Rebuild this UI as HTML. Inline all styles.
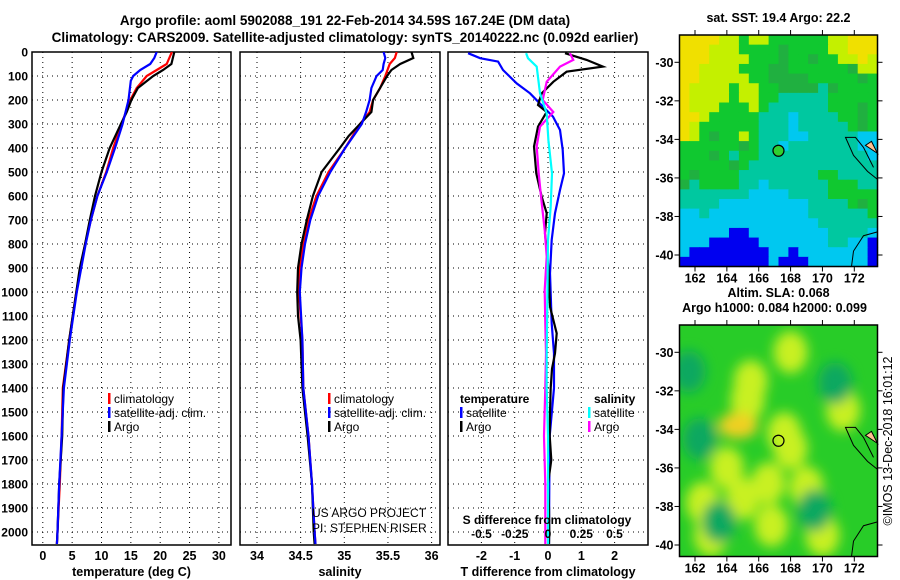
<!DOCTYPE html>
<html><head><meta charset="utf-8"><title>Argo profile</title>
<style>
html,body{margin:0;padding:0;background:#fff;}
svg{display:block;font-family:"Liberation Sans",Arial,sans-serif;}
.b{font-weight:bold;}
</style></head>
<body>
<svg id="chart" width="900" height="580" viewBox="0 0 900 580" xmlns="http://www.w3.org/2000/svg">
<defs>
<filter id="blur" x="-50%" y="-50%" width="200%" height="200%"><feGaussianBlur stdDeviation="6"/></filter>
<clipPath id="clipMap2"><rect x="680" y="325" width="198" height="232"/></clipPath>
<clipPath id="clipP1"><rect x="32" y="52" width="199" height="493"/></clipPath>
<clipPath id="clipP2"><rect x="240" y="52" width="200" height="493"/></clipPath>
<clipPath id="clipP3"><rect x="448" y="52" width="200" height="493"/></clipPath>
</defs>
<text class="b" x="345" y="25" font-size="13.5" text-anchor="middle">Argo profile: aoml 5902088_191 22-Feb-2014 34.59S 167.24E (DM data)</text>
<text class="b" x="345" y="42" font-size="13.5" text-anchor="middle">Climatology: CARS2009. Satellite-adjusted climatology: synTS_20140222.nc (0.092d earlier)</text>
<g id="g"></g>
</svg>
<script>
// ---------- data ----------
const depthTicks = [0,100,200,300,400,500,600,700,800,900,1000,1100,1200,1300,1400,1500,1600,1700,1800,1900,2000];
const tempTicks = [0,5,10,15,20,25,30];
const salTicks = [34,34.5,35,35.5,36];
const salTickLabels = ["34","34.5","35","35.5","36"];
const dTTicks = [-2,-1,0,1,2];
const dSTicks = [-0.5,-0.25,0,0.25,0.5];
const dSTickLabels = ["-0.5","-0.25","0","0.25","0.5"];

const tArgoDepth = [0,50,75,100,150,200,250,300,400,500,600,700,800,900,1000,1100,1200,1400,1600,1800,2000,2050];
const tArgo      = [22.4,21.9,20.5,18.8,16.2,15.1,14.3,13.3,11.4,10.0,8.9,8.0,7.2,6.3,5.7,5.1,4.5,3.5,3.3,2.8,2.5,2.4];
const tClimDepth = [0,50,75,100,150,200,300,400,500,600,700,800,1000,1200,1400,1600,1800,2000,2050];
const tClim      = [22.0,21.1,19.4,17.7,16.0,14.9,13.4,12.0,10.8,9.3,8.2,7.2,5.7,4.5,3.4,3.2,2.9,2.5,2.4];
const tSatDepth  = [0,25,50,75,100,120,200,300,400,500,600,700,800,1000,1200,1400,1600,1800,2000,2050];
const tSat       = [19.4,19.0,18.3,16.6,15.4,15.0,14.6,13.6,12.3,10.9,9.3,8.2,7.3,5.8,4.6,3.6,3.2,2.8,2.5,2.4];

const sArgoDepth = [0,25,50,75,100,150,200,250,300,350,400,500,600,700,800,900,1000,1100,1200,1400,1600,1800,2000,2050];
const sArgo      = [35.77,35.79,35.64,35.54,35.49,35.41,35.33,35.31,35.18,35.05,34.95,34.74,34.64,34.57,34.51,34.47,34.46,34.47,34.50,34.52,34.58,34.63,34.65,34.66];
const sClimDepth = [0,25,50,100,150,200,250,300,400,500,600,700,800,900,1000,1200,1400,1600,1800,2000,2050];
const sClim      = [35.60,35.58,35.52,35.47,35.41,35.33,35.29,35.18,35.01,34.82,34.68,34.59,34.53,34.49,34.48,34.52,34.53,34.59,34.63,34.66,34.67];
const sSatDepth  = [0,25,50,75,100,150,200,250,300,400,500,600,700,800,900,1000,1200,1400,1600,1800,2000,2050];
const sSat       = [35.45,35.47,35.45,35.44,35.37,35.31,35.29,35.25,35.20,35.01,34.84,34.70,34.61,34.55,34.51,34.49,34.52,34.53,34.59,34.63,34.66,34.67];

const dTArgoDepth = [5,33,61,82,124,172,221,250,311,394,506,603,672,756,894,1061,1172,1256,1320,1400,1500,1600,1700,1800,1900,2000,2050];
const dTArgo      = [0.51,1.16,1.65,0.56,0.16,-0.19,-0.30,-0.04,-0.30,-0.42,-0.35,-0.19,-0.04,-0.09,0.01,0.06,0.26,0.21,0.12,0.08,0.06,0.05,0.10,0.0,0.03,0.04,0.03];
const dTSatDepth  = [5,26,40,75,131,172,228,269,325,408,506,575,672,783,922,1131,1256,1400,1600,1800,2000,2050];
const dTSat       = [-2.4,-2.04,-1.5,-1.35,-0.94,-0.54,-0.15,0.15,0.36,0.44,0.48,0.36,0.21,0.11,0.06,0.11,0.18,0.18,0.05,0.04,0.03,0.03];
const dSArgoDepth = [5,33,61,124,200,250,311,394,506,617,742,853,992,1131,1256,1400,1600,1800,2000,2050];
const dSArgo      = [0.165,0.19,0.09,-0.01,-0.04,0.04,-0.06,-0.085,-0.07,-0.05,-0.025,-0.01,-0.025,-0.02,-0.015,-0.02,-0.03,-0.02,-0.02,-0.02];
const dSSatDepth  = [5,26,61,172,256,367,506,644,783,1061,1256,1400,1600,1800,2000,2050];
const dSSat       = [-0.165,-0.15,-0.085,-0.06,-0.01,0.003,0.03,0.02,0.0,-0.005,-0.01,-0.01,0.0,0.0,0.0,0.0];

const lonTicks = [162,164,166,168,170,172];
const latTicks = [-30,-32,-34,-36,-38,-40];
const argoLon = 167.24;
const argoLat = -34.59;
const sstGrid = [
"YYYYLLGLLGGGGGGLLYYY",
"YYYLLLGGGGgGGGGLLYYY",
"YYYLLLLGGGgGGgGGLLYL",
"YYLLLLGGGggGGGGGGgLL",
"YYLLLLLGGggggGGGGGgG",
"YLLLLGLLGGggggTgGGGG",
"YLLLLGLLGGTTTTTGGGGG",
"YLLLGGGLGTTTTTTGGGgG",
"YYLGGGGGTTTCTTTTGGgG",
"YLGGGGGGTTTCTTTTTGgG",
"YLGgGGLGTTTCCTTTTTCC",
"GGGGGGgGTTCTTTTTTTCC",
"GGGgGTGGTTTTTTTTTTTC",
"GGGGGgGTTTTTTTTTTTTT",
"GgGGGGTTTTTTTTGGTTTT",
"gTGGGGTTCTTTTTTGGGTT",
"TTTTTTTCCCCTTTTGGGGG",
"TTTTCCCCCCCCCTTTTGgG",
"CCTCCCCCCCCCCTTTTTTG",
"CCCCCCCCCCCCCCTTTTTT",
"CCCCCBBCCCCCCCCTTTTC",
"CCCBBBBBCCCCCCCTTCCB",
"CBBBBBBBBCCBCCCCCCCB",
"BBBBBBBBBCBBBCCCCCCB"];
const slaBlobLon = [165.5,165.3,164.7,167.6,168.0,166.6,165.0,171.3,168.0,163.0,166.8,162.5,164.0,169.0,170.0,170.8,161.6,162.3,169.5,163.5];
const slaBlobLat = [-31.5,-32.5,-33.8,-34.2,-35.0,-36.8,-37.6,-33.0,-30.0,-39.5,-39.0,-37.8,-36.0,-37.0,-39.5,-31.6,-31.0,-34.5,-38.2,-38.8];
const slaBlobVal = ["L","L","O","L","L","L","L","L","L","L","L","L","L","L","L","D","D","D","D","D"];

// ---------- helpers ----------
const NS = "http://www.w3.org/2000/svg";
const root = document.getElementById('g');
function mk(tag, attrs, parent){
  const e = document.createElementNS(NS, tag);
  for (const k in attrs) e.setAttribute(k, attrs[k]);
  (parent||root).appendChild(e);
  return e;
}
function txt(x,y,s,size,anchor,bold,parent){
  const t = mk('text',{x:x,y:y,'font-size':size,'text-anchor':anchor||'middle'},parent);
  if(bold) t.setAttribute('class','b');
  t.textContent = s;
  return t;
}
const yD = d => 52 + d*0.24;
const xT = t => 42.8 + t*5.87;
const xS = s => 257 + (s-34)*87.3;
const xdT = v => 548 + v*33.3;
const xdS = v => 548 + v*133;

function panel(x0,x1,name,xt,ticks,labels,title){
  const g = mk('g',{});
  
  
  depthTicks.forEach(d=>{ if(d>0){
    const l = mk('line',{x1:x0,x2:x1,y1:yD(d),y2:yD(d),stroke:'#000','stroke-width':1,'stroke-dasharray':'1,4'},g);
    
    
  }});
  ticks.forEach((v,i)=>{
    const x = xt(v);
    const l = mk('line',{x1:x,x2:x,y1:52,y2:545,stroke:'#000','stroke-width':1,'stroke-dasharray':'1,4'},g);
    
    
    if(labels){
      const t = txt(x,560,labels[i],12.5,'middle',true,g);
      
      
    }
  });
  const r = mk('rect',{x:x0,y:52,width:x1-x0,height:493,fill:'none',stroke:'#000','stroke-width':1.5},g);
  
  
  if(title){
    const t = txt((x0+x1)/2,576,title,12.5,'middle',true,g);
    
    
  }
  return g;
}
function line(xs,ds,xf,color,name,clip,w){
  const pts = xs.map((v,i)=>xf(v).toFixed(1)+','+yD(ds[i]).toFixed(1)).join(' ');
  const p = mk('polyline',{points:pts,fill:'none',stroke:color,'stroke-width':w||2.2,'clip-path':'url(#'+clip+')'});
  
  
}
function legendEntry(x,y,color,label,name){
  const g = mk('g',{});
  
  
  mk('rect',{x:x,y:y-10,width:2.5,height:11,fill:color},g);
  txt(x+6,y,label,12,'start',false,g);
}

// ---------- depth axis labels ----------
depthTicks.forEach(d=>{
  const t = txt(28,yD(d)+4.5,String(d),12,'end',true);
  
  
});

// ---------- panel 1 temperature ----------
panel(32,231,'temperature-panel',xT,tempTicks,tempTicks.map(String),'temperature (deg C)');
line(tClim,tClimDepth,xT,'#f00','temp-climatology-line','clipP1');
line(tArgo,tArgoDepth,xT,'#000','temp-argo-line','clipP1');
line(tSat,tSatDepth,xT,'#00f','temp-satellite-line','clipP1');
legendEntry(108,403,'#f00','climatology','legend-climatology');
legendEntry(108,417,'#00f','satellite-adj. clim.','legend-satellite');
legendEntry(108,431,'#000','Argo','legend-argo');

// ---------- panel 2 salinity ----------
panel(240,440,'salinity-panel',xS,salTicks,salTickLabels,'salinity');
line(sClim,sClimDepth,xS,'#f00','sal-climatology-line','clipP2');
line(sArgo,sArgoDepth,xS,'#000','sal-argo-line','clipP2');
line(sSat,sSatDepth,xS,'#00f','sal-satellite-line','clipP2');
legendEntry(328,403,'#f00','climatology','legend-sal-climatology');
legendEntry(328,417,'#00f','satellite-adj. clim.','legend-sal-satellite');
legendEntry(328,431,'#000','Argo','legend-sal-argo');
{
  const a = txt(312,517,'US ARGO PROJECT',12,'start',false);
  
  
  const b = txt(312,532,'PI: STEPHEN RISER',12,'start',false);
  
  
}

// ---------- panel 3 differences ----------
panel(448,648,'difference-panel',xdT,dTTicks,dTTicks.map(String),'T difference from climatology');
line(dTSat,dTSatDepth,xdT,'#00f','dT-satellite-line','clipP3');
line(dTArgo,dTArgoDepth,xdT,'#000','dT-argo-line','clipP3');
line(dSArgo,dSArgoDepth,xdS,'#f0f','dS-argo-line','clipP3');
line(dSSat,dSSatDepth,xdS,'#0ff','dS-satellite-line','clipP3');
{
  const t1 = txt(460,403,'temperature',12,'start',true);  
  const t2 = txt(594,403,'salinity',12,'start',true);  
}
legendEntry(460,417,'#00f','satellite','legend-dT-satellite');
legendEntry(460,431,'#000','Argo','legend-dT-argo');
legendEntry(588,417,'#0ff','satellite','legend-dS-satellite');
legendEntry(588,431,'#f0f','Argo','legend-dS-argo');
{
  const t = txt(547,524,'S difference from climatology',12,'middle',true);
  
  
  dSTicks.forEach((v,i)=>{
    const l = txt(xdS(v),538,dSTickLabels[i],12,'middle',true);
    
    
  });
}

// ---------- maps ----------
const mapX0=679.5, mapX1=877.5;
const xLon = lon => 695 + (lon-162)*15.93;
const yLat1 = lat => 62.3 + (-30-lat)*19.27;
const yLat2 = lat => 352.3 + (-30-lat)*19.27;
const sstColors = {Y:'#f0e000',L:'#c4f000',G:'#10c830',g:'#20b040',T:'#00c8a0',C:'#00c8f0',B:'#0000f0'};

function mapAxes(y0,y1,yLat,name,title1,title2){
  const g = mk('g',{});
  
  
  mk('rect',{x:mapX0,y:y0,width:mapX1-mapX0,height:y1-y0,fill:'none',stroke:'#000','stroke-width':1.5},g);
  lonTicks.forEach(l=>{
    mk('line',{x1:xLon(l),x2:xLon(l),y1:y1,y2:y1+5,stroke:'#000'},g);
    mk('line',{x1:xLon(l),x2:xLon(l),y1:y0-5,y2:y0,stroke:'#000'},g);
    const t = txt(xLon(l),y1+16,String(l),12.5,'middle',true,g);
    
    
  });
  latTicks.forEach(l=>{
    mk('line',{x1:mapX0-5,x2:mapX0,y1:yLat(l),y2:yLat(l),stroke:'#000'},g);
    mk('line',{x1:mapX1,x2:mapX1+5,y1:yLat(l),y2:yLat(l),stroke:'#000'},g);
    const t = txt(mapX0-6,yLat(l)+4.5,String(l),12.5,'end',true,g);
    
    
  });
  const cy = yLat(-34);
  mk('path',{d:`M${mapX1} ${cy+14} L${mapX1-6} ${cy+10} L${mapX1-12} ${cy+6} L${mapX1-6} ${cy+2} Z`,fill:'#ffc090',stroke:'#000','stroke-width':1},g);
  mk('path',{d:`M${mapX1} ${cy+40} L${mapX1-10} ${cy+32} L${mapX1-24} ${cy+16} L${mapX1-32} ${cy-2} L${mapX1-22} ${cy-2} L${mapX1-14} ${cy+8} L${mapX1-4} ${cy+28}`,fill:'none',stroke:'#000','stroke-width':1},g);
  mk('path',{d:`M${mapX1} ${yLat(-38.8)} L${mapX1-14} ${yLat(-39)} L${mapX1-24} ${yLat(-39.8)} L${mapX1-26} ${yLat(-40.6)}`,fill:'none',stroke:'#000','stroke-width':1},g);
  const c = mk('circle',{cx:xLon(argoLon),cy:yLat(argoLat),r:5.5,fill:name==='sst-map'?'#30d030':'none',stroke:'#000','stroke-width':1.2},g);
  
  
  const t1 = txt((mapX0+mapX1)/2,title2?y0-28:y0-13,title1,12.5,'middle',true);
  
  
  if(title2){
    const t2 = txt((mapX0+mapX1)/2-4,y0-13,title2,12.5,'middle',true);
    
    
  }
}

// SST map cells
{
  const g = mk('g',{});
  
  
  const y0=35, y1=266.5, rows=sstGrid.length, cols=sstGrid[0].length;
  const cw=(mapX1-mapX0)/cols, ch=(y1-y0)/rows;
  sstGrid.forEach((row,r)=>{
    for(let c=0;c<cols;c++){
      mk('rect',{x:(mapX0+c*cw).toFixed(2),y:(y0+r*ch).toFixed(2),width:(cw+0.6).toFixed(2),height:(ch+0.6).toFixed(2),fill:sstColors[row[c]]},g);
    }
  });
  mapAxes(35,266.5,yLat1,'sst-map','sat. SST: 19.4 Argo: 22.2',null);
}
// SLA map
{
  const g = mk('g',{'clip-path':'url(#clipMap2)'});
  
  
  mk('rect',{x:680,y:325,width:198,height:232,fill:'#28cc28'},g);
  const bg = mk('g',{filter:'url(#blur)'},g);
  const blobCol = {L:'#c8f020',O:'#f0d020',D:'#10a860'};
  slaBlobLon.forEach((lon,i)=>{
    const v = slaBlobVal[i];
    mk('ellipse',{cx:xLon(lon),cy:yLat2(slaBlobLat[i]),rx:v==='O'?20:17,ry:v==='O'?13:21,fill:blobCol[v]},bg);
  });
  mapAxes(325,556.5,yLat2,'sla-map','Altim. SLA: 0.068','Argo h1000: 0.084 h2000: 0.099');
  const t = mk('text',{x:892,y:441,'font-size':12.5,'text-anchor':'middle',transform:'rotate(-90 892 441)'});
  t.textContent = '©IMOS 13-Dec-2018 16:01:12';
  
  
}
</script>
</body></html>
